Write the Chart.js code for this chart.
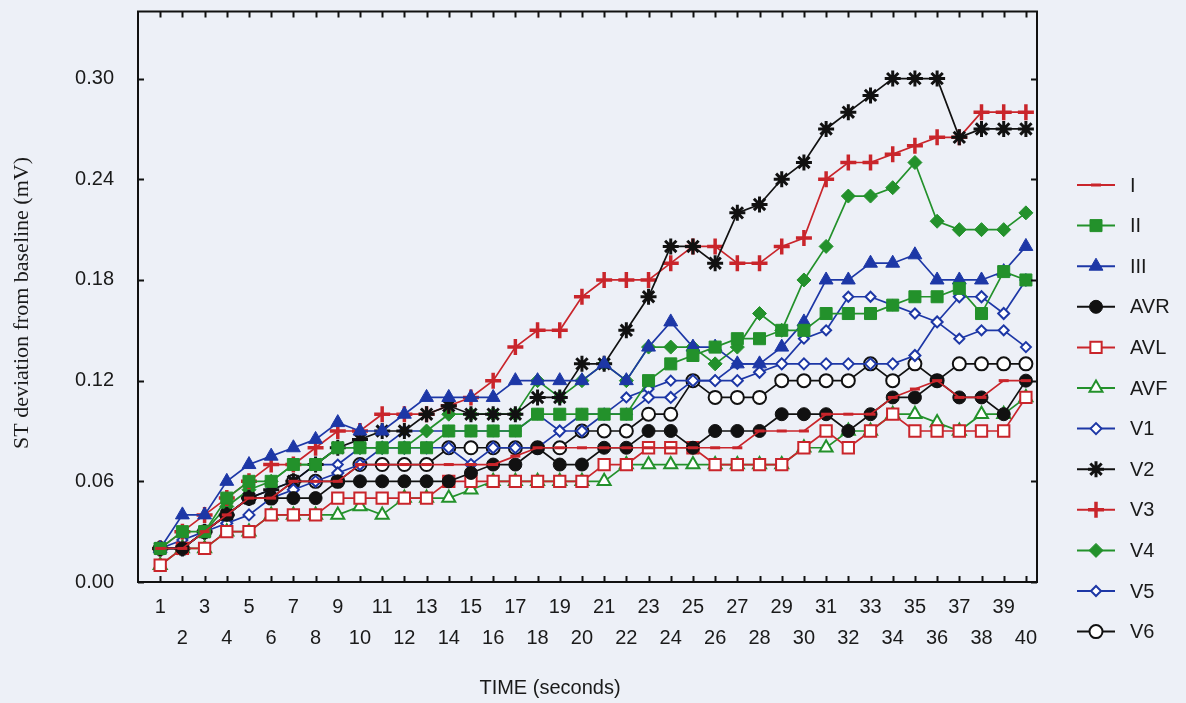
<!DOCTYPE html>
<html>
<head>
<meta charset="utf-8">
<title>ST deviation by lead</title>
<script src="https://cdn.jsdelivr.net/npm/chart.js@4/dist/chart.umd.min.js"></script>
<style>
  html, body { margin: 0; padding: 0; background: #edf0f7; }
  #wrap { position: relative; width: 1186px; height: 703px; }
</style>
</head>
<body>
<div id="wrap"><canvas id="c" width="1186" height="703"></canvas></div>
<script>
// Time axis (seconds) and its tick labels
const seconds = [1,2,3,4,5,6,7,8,9,10,11,12,13,14,15,16,17,18,19,20,
                 21,22,23,24,25,26,27,28,29,30,31,32,33,34,35,36,37,38,39,40];
const xTickLabels = ['1','2','3','4','5','6','7','8','9','10','11','12','13','14','15','16','17','18','19','20',
                     '21','22','23','24','25','26','27','28','29','30','31','32','33','34','35','36','37','38','39','40'];
const yTickValues = [0, 0.06, 0.12, 0.18, 0.24, 0.30];

// ST deviation from baseline (mV) per lead
const leadNames = ['I','II','III','AVR','AVL','AVF','V1','V2','V3','V4','V5','V6'];
const leadI   = [0.02,0.02,0.03,0.04,0.05,0.05,0.06,0.06,0.06,0.07,0.07,0.07,0.07,0.07,0.07,0.07,0.075,0.08,0.08,0.08,
                 0.08,0.08,0.08,0.08,0.08,0.08,0.08,0.09,0.09,0.09,0.10,0.10,0.10,0.11,0.115,0.12,0.11,0.11,0.12,0.12];
const leadII  = [0.02,0.03,0.03,0.05,0.06,0.06,0.07,0.07,0.08,0.08,0.08,0.08,0.08,0.09,0.09,0.09,0.09,0.10,0.10,0.10,
                 0.10,0.10,0.12,0.13,0.135,0.14,0.145,0.145,0.15,0.15,0.16,0.16,0.16,0.165,0.17,0.17,0.175,0.16,0.185,0.18];
const leadIII = [0.02,0.04,0.04,0.06,0.07,0.075,0.08,0.085,0.095,0.09,0.09,0.10,0.11,0.11,0.11,0.11,0.12,0.12,0.12,0.12,
                 0.13,0.12,0.14,0.155,0.14,0.14,0.13,0.13,0.14,0.155,0.18,0.18,0.19,0.19,0.195,0.18,0.18,0.18,0.185,0.20];
const leadAVR = [0.02,0.02,0.03,0.04,0.05,0.05,0.05,0.05,0.06,0.06,0.06,0.06,0.06,0.06,0.065,0.07,0.07,0.08,0.07,0.07,
                 0.08,0.08,0.09,0.09,0.08,0.09,0.09,0.09,0.10,0.10,0.10,0.09,0.10,0.11,0.11,0.12,0.11,0.11,0.10,0.12];
const leadAVL = [0.01,0.02,0.02,0.03,0.03,0.04,0.04,0.04,0.05,0.05,0.05,0.05,0.05,0.06,0.06,0.06,0.06,0.06,0.06,0.06,
                 0.07,0.07,0.08,0.08,0.08,0.07,0.07,0.07,0.07,0.08,0.09,0.08,0.09,0.10,0.09,0.09,0.09,0.09,0.09,0.11];
const leadAVF = [0.01,0.02,0.02,0.03,0.03,0.04,0.04,0.04,0.04,0.045,0.04,0.05,0.05,0.05,0.055,0.06,0.06,0.06,0.06,0.06,
                 0.06,0.07,0.07,0.07,0.07,0.07,0.07,0.07,0.07,0.08,0.08,0.09,0.09,0.10,0.10,0.095,0.09,0.10,0.10,0.11];
const leadV1  = [0.02,0.02,0.03,0.035,0.04,0.05,0.055,0.06,0.065,0.07,0.08,0.08,0.08,0.08,0.07,0.08,0.08,0.08,0.09,0.09,
                 0.10,0.10,0.11,0.11,0.12,0.12,0.12,0.125,0.13,0.13,0.13,0.13,0.13,0.13,0.135,0.155,0.17,0.17,0.16,0.18];
const leadV2  = [0.02,0.02,0.03,0.04,0.05,0.055,0.06,0.07,0.08,0.085,0.09,0.09,0.10,0.105,0.10,0.10,0.10,0.11,0.11,0.13,
                 0.13,0.15,0.17,0.20,0.20,0.19,0.22,0.225,0.24,0.25,0.27,0.28,0.29,0.30,0.30,0.30,0.265,0.27,0.27,0.27];
const leadV3  = [0.02,0.03,0.04,0.05,0.06,0.07,0.07,0.08,0.09,0.09,0.10,0.10,0.10,0.105,0.11,0.12,0.14,0.15,0.15,0.17,
                 0.18,0.18,0.18,0.19,0.20,0.20,0.19,0.19,0.20,0.205,0.24,0.25,0.25,0.255,0.26,0.265,0.265,0.28,0.28,0.28];
const leadV4  = [0.02,0.02,0.03,0.045,0.055,0.06,0.07,0.07,0.08,0.08,0.08,0.08,0.09,0.10,0.10,0.10,0.10,0.12,0.11,0.12,
                 0.13,0.12,0.14,0.14,0.14,0.13,0.14,0.16,0.15,0.18,0.20,0.23,0.23,0.235,0.25,0.215,0.21,0.21,0.21,0.22];
const leadV5  = [0.02,0.025,0.03,0.04,0.05,0.055,0.06,0.07,0.07,0.08,0.08,0.09,0.09,0.09,0.09,0.09,0.09,0.10,0.09,0.10,
                 0.10,0.11,0.115,0.12,0.12,0.12,0.13,0.13,0.13,0.145,0.15,0.17,0.17,0.165,0.16,0.155,0.145,0.15,0.15,0.14];
const leadV6  = [0.02,0.02,0.03,0.04,0.05,0.05,0.06,0.06,0.06,0.07,0.07,0.07,0.07,0.08,0.08,0.08,0.08,0.08,0.08,0.09,
                 0.09,0.09,0.10,0.10,0.12,0.11,0.11,0.11,0.12,0.12,0.12,0.12,0.13,0.12,0.13,0.12,0.13,0.13,0.13,0.13];

const leadValues = [leadI, leadII, leadIII, leadAVR, leadAVL, leadAVF, leadV1, leadV2, leadV3, leadV4, leadV5, leadV6];

// Drawing styles per lead (colour, marker shape, marker size, marker outline, marker fill)
const RED = '#c9252b', GREEN = '#23912b', BLUE = '#1d37a6', BLACK = '#111111', HOLLOW = '#ffffff';
const leadStyles = [
  { color: RED,   shape: 'line',     r: 5,   bw: 3,   fill: RED },
  { color: GREEN, shape: 'rect',     r: 8.5, bw: 1,   fill: GREEN },
  { color: BLUE,  shape: 'triangle', r: 8,   bw: 1,   fill: BLUE },
  { color: BLACK, shape: 'circle',   r: 6.5, bw: 1,   fill: BLACK },
  { color: RED,   shape: 'rect',     r: 8,   bw: 2,   fill: HOLLOW },
  { color: GREEN, shape: 'triangle', r: 7.5, bw: 2,   fill: HOLLOW },
  { color: BLUE,  shape: 'rectRot',  r: 5.5, bw: 2,   fill: HOLLOW },
  { color: BLACK, shape: 'star',     r: 8,   bw: 3,   fill: BLACK },
  { color: RED,   shape: 'cross',    r: 8,   bw: 3.5, fill: RED },
  { color: GREEN, shape: 'rectRot',  r: 7,   bw: 1,   fill: GREEN },
  { color: BLUE,  shape: 'rectRot',  r: 5,   bw: 2,   fill: HOLLOW },
  { color: BLACK, shape: 'circle',   r: 6.5, bw: 2,   fill: HOLLOW }
];

const datasets = leadNames.map((name, i) => {
  const st = leadStyles[i];
  return {
    label: name,
    data: leadValues[i].map((v, k) => ({ x: seconds[k], y: v })),
    borderColor: st.color,
    backgroundColor: st.fill,
    borderWidth: 1.7,
    tension: 0,
    fill: false,
    pointStyle: st.shape,
    pointRadius: st.r,
    pointHoverRadius: st.r,
    pointBorderWidth: st.bw,
    pointBorderColor: st.color,
    pointBackgroundColor: st.fill,
    clip: false
  };
});

const SANS = 'Liberation Sans, Arial, sans-serif';
const INK = '#1a1a1a';

// Frame with inward ticks on all four sides, axis titles and the lead key
const framePlugin = {
  id: 'frameAndKey',
  afterDraw(chart) {
    const { ctx, chartArea: a, scales } = chart;
    const xs = scales.x, ys = scales.y;
    const tl = 6;
    ctx.save();
    ctx.strokeStyle = '#111';
    ctx.lineWidth = 2;
    ctx.strokeRect(a.left, a.top, a.right - a.left, a.bottom - a.top);
    ctx.beginPath();
    seconds.forEach(v => {
      const px = Math.round(xs.getPixelForValue(v)) + 0.5;
      ctx.moveTo(px, a.bottom); ctx.lineTo(px, a.bottom - tl);
      ctx.moveTo(px, a.top);    ctx.lineTo(px, a.top + tl);
    });
    yTickValues.forEach(v => {
      const py = Math.round(ys.getPixelForValue(v)) + 0.5;
      ctx.moveTo(a.left, py);  ctx.lineTo(a.left + tl, py);
      ctx.moveTo(a.right, py); ctx.lineTo(a.right - tl, py);
    });
    ctx.stroke();

    // time axis title
    ctx.fillStyle = INK;
    ctx.font = '20px "Liberation Sans", Arial, sans-serif';
    ctx.textAlign = 'center';
    ctx.textBaseline = 'middle';
    ctx.fillText('TIME (seconds)', 550, 688);

    // value axis title
    ctx.save();
    ctx.translate(22, 303);
    ctx.rotate(-Math.PI / 2);
    ctx.font = '22px "Liberation Serif", "Times New Roman", serif';
    ctx.fillText('ST deviation from baseline (mV)', 0, 0);
    ctx.restore();

    // lead key on the right
    const keyTop = 185, keyStep = 40.6;
    chart.data.datasets.forEach((ds, i) => {
      const y = keyTop + i * keyStep;
      ctx.strokeStyle = ds.borderColor;
      ctx.lineWidth = 2;
      ctx.beginPath();
      ctx.moveTo(1077, y); ctx.lineTo(1115, y);
      ctx.stroke();
      ctx.fillStyle = ds.pointBackgroundColor;
      ctx.strokeStyle = ds.pointBorderColor;
      ctx.lineWidth = ds.pointBorderWidth;
      Chart.helpers.drawPoint(ctx, {
        pointStyle: ds.pointStyle,
        radius: ds.pointRadius,
        borderWidth: ds.pointBorderWidth,
        rotation: 0
      }, 1096, y);
      ctx.fillStyle = INK;
      ctx.font = '20px "Liberation Sans", Arial, sans-serif';
      ctx.textAlign = 'left';
      ctx.textBaseline = 'middle';
      ctx.fillText(ds.label, 1130, y + 1);
    });
    ctx.restore();
  }
};

new Chart(document.getElementById('c'), {
  type: 'line',
  data: { datasets },
  options: {
    responsive: false,
    devicePixelRatio: 1,
    animation: false,
    events: [],
    layout: { padding: { top: 9, right: 149, bottom: 0, left: 0 } },
    plugins: { legend: { display: false }, tooltip: { enabled: false } },
    scales: {
      x: {
        type: 'linear',
        min: 0,
        max: 40.5,
        afterBuildTicks: s => { s.ticks = seconds.map(v => ({ value: v })); },
        afterFit: s => { s.height = 121; s.paddingLeft = 0; s.paddingRight = 0; },
        grid: { display: false, drawTicks: false },
        border: { display: false },
        ticks: {
          autoSkip: false,
          maxRotation: 0,
          minRotation: 0,
          padding: 10,
          color: INK,
          font: { family: SANS, size: 20, lineHeight: 1.55 },
          callback: (v, i) => (i % 2 === 0 ? xTickLabels[i] : ['', xTickLabels[i]])
        }
      },
      y: {
        type: 'linear',
        min: 0,
        max: 0.34,
        afterBuildTicks: s => { s.ticks = yTickValues.map(v => ({ value: v })); },
        afterFit: s => { s.width = 138; s.paddingTop = 0; s.paddingBottom = 0; },
        grid: { display: false, drawTicks: false },
        border: { display: false },
        ticks: {
          padding: 24,
          color: INK,
          font: { family: SANS, size: 20 },
          callback: v => Number(v).toFixed(2)
        }
      }
    }
  },
  plugins: [framePlugin]
});
</script>
</body>
</html>
